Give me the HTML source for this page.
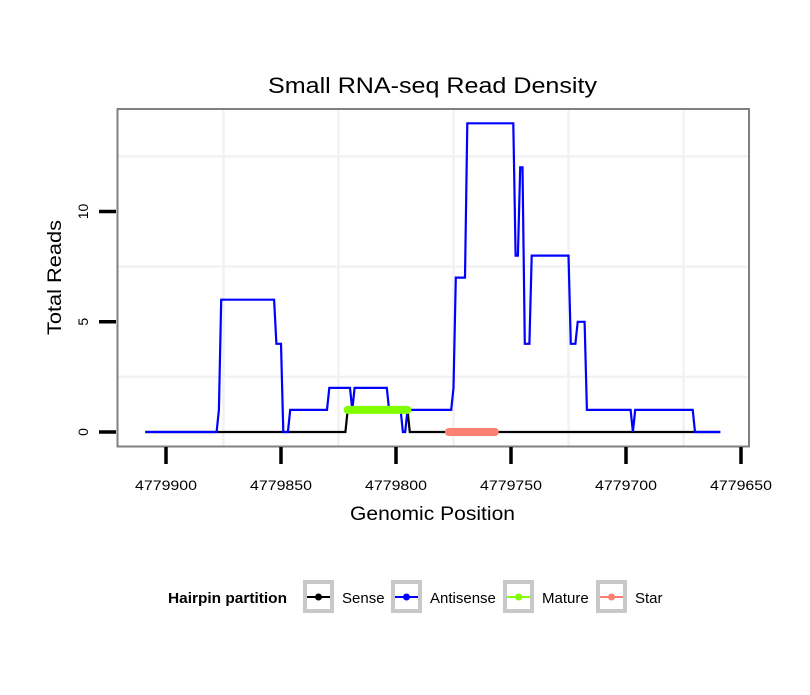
<!DOCTYPE html>
<html><head><meta charset="utf-8"><style>
body{margin:0;background:#fff;}
svg text{font-family:"Liberation Sans",Arial,sans-serif;}
</style></head><body>
<svg id="chart" width="810" height="690" viewBox="0 0 810 690" xmlns="http://www.w3.org/2000/svg">
<rect x="0" y="0" width="810" height="690" fill="#fff"/>
<text x="268" y="93" font-size="22" textLength="329" lengthAdjust="spacingAndGlyphs">Small RNA-seq Read Density</text>
<g id="grid"></g>
<g id="series"></g>
<rect x="117.5" y="109" width="631.5" height="337.5" fill="none" stroke="#808080" stroke-width="2"/>
<g id="axes"></g>
<text x="350" y="520" font-size="19" textLength="165" lengthAdjust="spacingAndGlyphs">Genomic Position</text>
<text transform="translate(61,335) rotate(-90)" font-size="19" textLength="115" lengthAdjust="spacingAndGlyphs">Total Reads</text>
<g>
<text x="168" y="603" font-size="15" font-weight="bold" textLength="119" lengthAdjust="spacingAndGlyphs">Hairpin partition</text>
<g id="legend-keys"></g>
</g>
</svg>
<script>
const senseOffsets=[-9,78,79,105,106,241];
const senseValues=[0,0,1,1,0,0];
const antiOffsets=[-9,22,23,24,47,48,50,51,53,54,70,71,80,81,82,96,97,102,103,104,105,124,125,126,130,131,151,152,153,154,155,156,158,159,175,176,178,179,182,183,202,203,204,229,230,241];
const antiValues=[0,0,1,6,6,4,4,0,0,1,1,2,2,1,2,2,1,1,0,0,1,1,2,7,7,14,14,8,8,12,12,4,4,8,8,4,4,5,5,1,1,0,1,1,0,0];
const matureOffsets=[79,105];
const matureValues=[1,1];
const starOffsets=[123,143];
const starValues=[0,0];
const xTickLabels=[4779900,4779850,4779800,4779750,4779700,4779650];
const yTickLabels=[0,5,10];
const base=4779900;
const ns="http://www.w3.org/2000/svg";
function xs(pos){return 166+(base-pos)*2.3;}
function ys(v){return 432-v*22.05;}
function mk(tag,attrs,parent){const e=document.createElementNS(ns,tag);for(const k in attrs)e.setAttribute(k,attrs[k]);parent.appendChild(e);return e;}
const grid=document.getElementById('grid'),series=document.getElementById('series'),axes=document.getElementById('axes');
[12.5,7.5,2.5].forEach(v=>{const l=mk('line',{x1:118,x2:748,y1:ys(v),y2:ys(v),stroke:'#f2f2f2','stroke-width':2.5},grid);

});
[4779875,4779825,4779775,4779725,4779675].forEach(p=>{const l=mk('line',{x1:xs(p),x2:xs(p),y1:110,y2:446,stroke:'#f2f2f2','stroke-width':2.5},grid);

});
function pathOf(offs,vals){return offs.map((d,i)=>(i?'L':'M')+xs(base-d).toFixed(1)+','+ys(vals[i]).toFixed(1)).join(' ');}
const ps=mk('path',{d:pathOf(senseOffsets,senseValues),fill:'none',stroke:'#000','stroke-width':2.2},series);


const pa=mk('path',{d:pathOf(antiOffsets,antiValues),fill:'none',stroke:'#0000ff','stroke-width':2.2},series);


const pm=mk('path',{d:pathOf(matureOffsets,matureValues),fill:'none',stroke:'#7fff00','stroke-width':8,'stroke-linecap':'round'},series);


const pst=mk('path',{d:pathOf(starOffsets,starValues),fill:'none',stroke:'#fa8072','stroke-width':8,'stroke-linecap':'round'},series);


xTickLabels.forEach(p=>{const x=xs(p);
const t=mk('line',{x1:x,x2:x,y1:447,y2:464,stroke:'#000','stroke-width':3.5},axes);


const tx=mk('text',{x:x-31,y:490,'font-size':14,textLength:62,lengthAdjust:'spacingAndGlyphs'},axes);tx.textContent=p;

});
yTickLabels.forEach(v=>{const y=ys(v);
const t=mk('line',{x1:99,x2:116,y1:y,y2:y,stroke:'#000','stroke-width':3.5},axes);


const tx=mk('text',{transform:`translate(88,${y}) rotate(-90)`,'font-size':14,'text-anchor':'middle'},axes);tx.textContent=v;

});
const lk=document.getElementById('legend-keys');
[['Sense','#000',303],['Antisense','#0000ff',391],['Mature','#7fff00',503],['Star','#fa8072',596]].forEach(([n,c,x])=>{
const g=mk('g',{},lk);


mk('rect',{x:x+2,y:582,width:27,height:29,fill:'#fff',stroke:'#c8c8c8','stroke-width':4},g);
mk('line',{x1:x+4,x2:x+27,y1:597,y2:597,stroke:c,'stroke-width':2},g);
mk('circle',{cx:x+15.5,cy:597,r:3.5,fill:c},g);
const t=mk('text',{x:x+39,y:603,'font-size':15},g);t.textContent=n;});
</script>
</body></html>
